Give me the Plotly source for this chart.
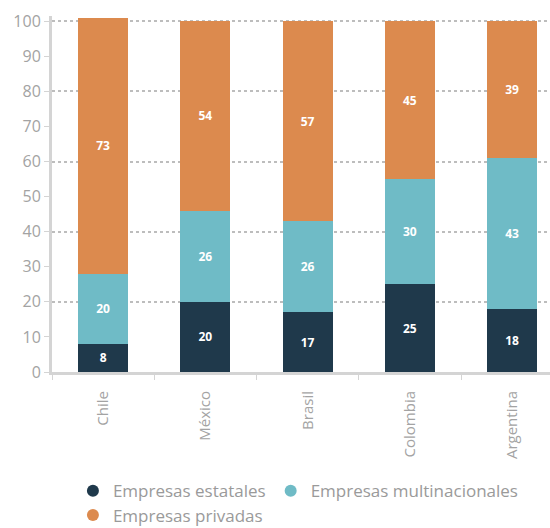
import plotly.graph_objects as go

categories = ["Chile", "México", "Brasil", "Colombia", "Argentina"]
estatales = [8, 20, 17, 25, 18]
multinacionales = [20, 26, 26, 30, 43]
privadas = [73, 54, 57, 45, 39]

series = [
    ("Empresas estatales", estatales, "#1f394b", "legend"),
    ("Empresas multinacionales", multinacionales, "#6fbbc6", "legend"),
    ("Empresas privadas", privadas, "#dc8a4e", "legend2"),
]

fig = go.Figure()
# invisible trace so the overlay axis carrying ticks/labels is drawn
fig.add_trace(go.Scatter(x=[categories[0]], y=[None], yaxis="y2", mode="markers",
                         showlegend=False, hoverinfo="skip"))
for name, vals, color, lg in series:
    fig.add_trace(go.Bar(
        x=categories, y=vals, name=name, marker_color=color, marker_line_width=0,
        text=[str(v) for v in vals], textposition="inside", insidetextanchor="middle",
        textfont=dict(color="white", size=12, family="Open Sans", weight="bold"),
        showlegend=False,
    ))
for name, vals, color, lg in series:
    fig.add_trace(go.Scatter(
        x=[None], y=[None], mode="markers", name=name, legend=lg,
        marker=dict(color=color, size=12, symbol="circle"),
    ))

legend_style = dict(
    orientation="h", x=0.042, xanchor="left", yref="container", yanchor="top",
    font=dict(size=17, color="#9a9a9a"), itemsizing="constant",
    traceorder="normal", tracegroupgap=0, bgcolor="rgba(0,0,0,0)",
)

fig.update_layout(
    width=550, height=528,
    margin=dict(l=52, r=0, t=16, b=156, autoexpand=False),
    barmode="stack", bargap=0.51,
    plot_bgcolor="white", paper_bgcolor="white",
    font=dict(family="Open Sans", color="#a3a3a3"),
    xaxis=dict(
        range=[-0.5, 4.37], showline=True, linecolor="#d4d4d4", linewidth=3,
        ticks="outside", tickson="boundaries", ticklen=5, tickcolor="#d4d4d4",
        tickangle=-90, tickfont=dict(size=15, color="#a3a3a3"), showgrid=False,
        ticklabelstandoff=10,
    ),
    yaxis=dict(
        range=[0, 101.5], dtick=20, showgrid=True, gridcolor="#bdbdbd",
        griddash="dot", gridwidth=1.5, showticklabels=False, ticks="",
        showline=False, zeroline=False,
    ),
    yaxis2=dict(
        overlaying="y", side="left", range=[0, 101.5], dtick=10,
        showline=True, linecolor="#d4d4d4", linewidth=3,
        ticks="outside", ticklen=5, tickcolor="#d4d4d4", showgrid=False,
        tickfont=dict(size=16, color="#a3a3a3"), zeroline=False,
    ),
    legend=dict(legend_style, y=0.104),
    legend2=dict(legend_style, y=0.058),
)

fig.write_html("out.html")
